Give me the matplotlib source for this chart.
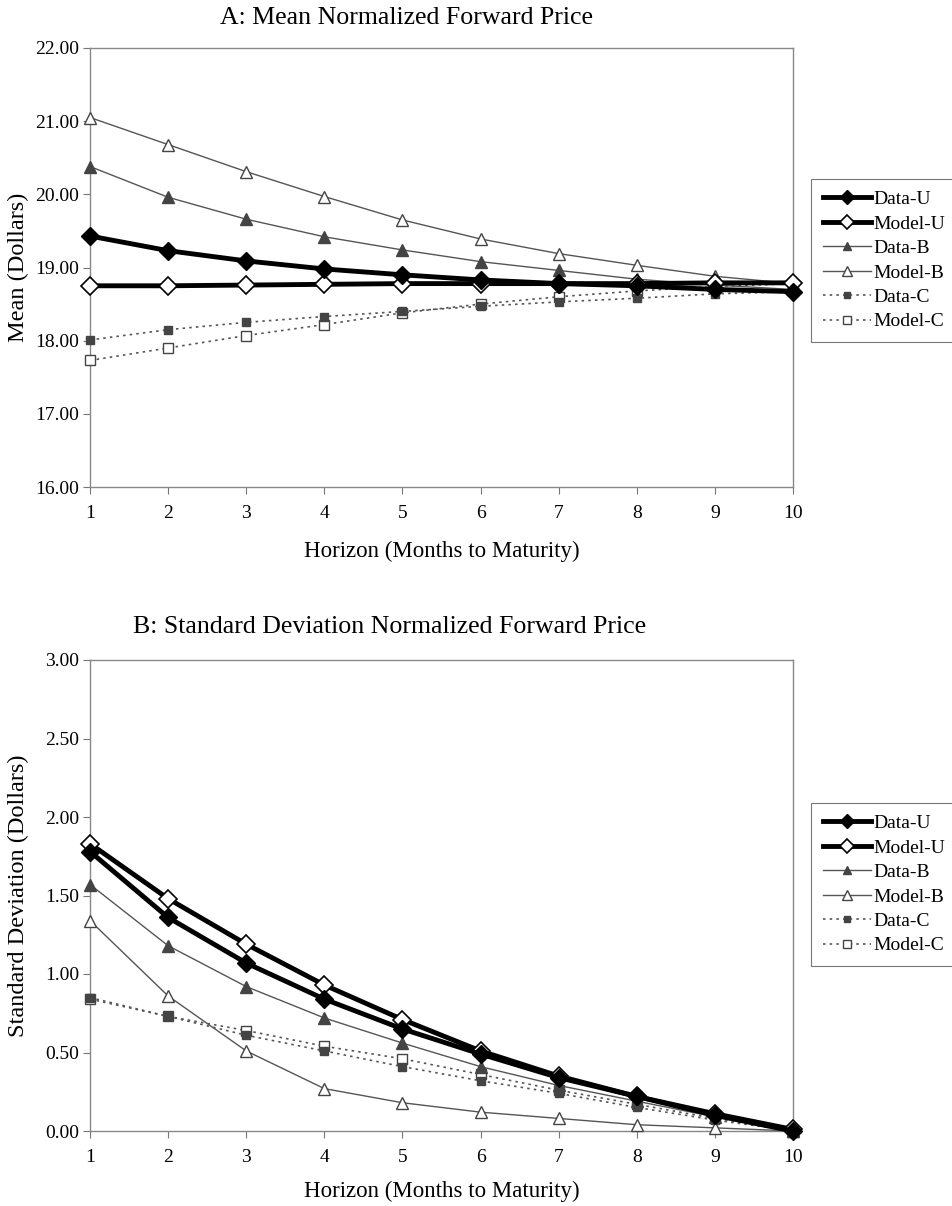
import matplotlib
matplotlib.use("Agg")
import matplotlib.pyplot as plt
import numpy as np

plt.rcParams['font.family'] = ['Liberation Serif', 'DejaVu Serif']

horizon = [1, 2, 3, 4, 5, 6, 7, 8, 9, 10]

# Panel A: mean normalized forward price
mean_data_u = [19.43, 19.23, 19.09, 18.98, 18.90, 18.83, 18.78, 18.75, 18.70, 18.67]
mean_model_u = [18.75, 18.75, 18.76, 18.77, 18.78, 18.78, 18.78, 18.78, 18.79, 18.79]
mean_data_b = [20.38, 19.96, 19.66, 19.42, 19.24, 19.08, 18.96, 18.84, 18.76, 18.70]
mean_model_b = [21.05, 20.68, 20.31, 19.97, 19.65, 19.39, 19.19, 19.03, 18.88, 18.78]
mean_data_c = [18.01, 18.15, 18.25, 18.33, 18.40, 18.47, 18.53, 18.58, 18.64, 18.67]
mean_model_c = [17.73, 17.90, 18.07, 18.22, 18.38, 18.50, 18.60, 18.68, 18.74, 18.78]

# Panel B: standard deviation normalized forward price
sd_data_u = [1.78, 1.36, 1.07, 0.84, 0.65, 0.49, 0.34, 0.22, 0.10, 0.00]
sd_model_u = [1.83, 1.48, 1.19, 0.93, 0.71, 0.51, 0.35, 0.22, 0.11, 0.01]
sd_data_b = [1.57, 1.18, 0.92, 0.72, 0.56, 0.41, 0.29, 0.19, 0.09, 0.00]
sd_model_b = [1.34, 0.86, 0.51, 0.27, 0.18, 0.12, 0.08, 0.04, 0.02, 0.00]
sd_data_c = [0.85, 0.73, 0.61, 0.51, 0.41, 0.32, 0.24, 0.15, 0.07, 0.00]
sd_model_c = [0.84, 0.73, 0.64, 0.54, 0.46, 0.36, 0.26, 0.17, 0.08, 0.00]

labels = ["Data-U", "Model-U", "Data-B", "Model-B", "Data-C", "Model-C"]

W, H = 952, 1206
fig = plt.figure(figsize=(W / 100, H / 100), dpi=100)
axA = fig.add_axes([90 / W, 1 - 487 / H, 703 / W, 439 / H])
axB = fig.add_axes([90 / W, 1 - 1131 / H, 703 / W, 471 / H])

grey = '#555555'
styles = [
    dict(color='black', lw=3.5, marker='D', ms=9, mfc='black', mec='black'),
    dict(color='black', lw=3.5, marker='D', ms=9, mfc='white', mec='black', mew=1.2),
    dict(color=grey, lw=1.0, marker='^', ms=8, mfc='#444444', mec='#444444'),
    dict(color=grey, lw=1.0, marker='^', ms=9, mfc='white', mec='#444444', mew=1.0),
    dict(color=grey, lw=1.2, ls=(0, (1.5, 2.5)), marker='s', ms=6, mfc='#444444', mec='#444444'),
    dict(color=grey, lw=1.2, ls=(0, (1.5, 2.5)), marker='s', ms=7, mfc='white', mec='#444444', mew=1.0),
]

seriesA = [mean_data_u, mean_model_u, mean_data_b, mean_model_b, mean_data_c, mean_model_c]
seriesB = [sd_data_u, sd_model_u, sd_data_b, sd_model_b, sd_data_c, sd_model_c]

def draw(ax, series, ylim, yticks, ylabel, title, title_x, title_y, xlabel_y):
    handles = {}
    for i in [5, 4, 3, 2, 1, 0]:
        h, = ax.plot(horizon, series[i], label=labels[i], clip_on=False,
                     zorder=3 + (5 - i) * 0.1, **styles[i])
        handles[i] = h
    ax.set_xlim(1, 10)
    ax.set_ylim(*ylim)
    ax.set_xticks(horizon)
    ax.set_yticks(yticks)
    ax.set_yticklabels([f"{v:.2f}" for v in yticks])
    ax.tick_params(axis='both', labelsize=14, direction='out', length=5, width=0.8, color='#777777')
    ax.tick_params(axis='x', pad=8)
    ax.tick_params(axis='y', pad=3)
    for s in ax.spines.values():
        s.set_color('#888888')
        s.set_linewidth(1.0)
    ax.set_ylabel(ylabel, fontsize=17.5, va='center')
    ax.yaxis.set_label_coords(-72 / 703, 0.5)
    ax.set_xlabel("Horizon (Months to Maturity)", fontsize=16.5, va='center')
    ax.xaxis.set_label_coords(0.5, xlabel_y)
    fig.text(title_x / W, 1 - title_y / H, title, fontsize=18.6, ha='center', va='center')
    return [handles[i] for i in range(6)]

hA = draw(axA, seriesA, (16, 22), [16, 17, 18, 19, 20, 21, 22], "Mean (Dollars)",
          "A: Mean Normalized Forward Price", 406, 18, -64 / 439)
hB = draw(axB, seriesB, (0, 3), [0, 0.5, 1.0, 1.5, 2.0, 2.5, 3.0], "Standard Deviation (Dollars)",
          "B: Standard Deviation Normalized Forward Price", 390, 627, -60 / 471)

for h, top in [(hA, 1 - 179 / H), (hB, 1 - 803 / H)]:
    leg = fig.legend(h, labels, loc='upper left', bbox_to_anchor=(811 / W, top),
                     fontsize=14, frameon=True, fancybox=False, edgecolor='#555555',
                     handlelength=2.5, handletextpad=0.1, borderpad=0.6, labelspacing=0.35,
                     borderaxespad=0, markerscale=0.75)
    leg.get_frame().set_linewidth(0.8)

fig.savefig("out.png", dpi=100, facecolor='white')
